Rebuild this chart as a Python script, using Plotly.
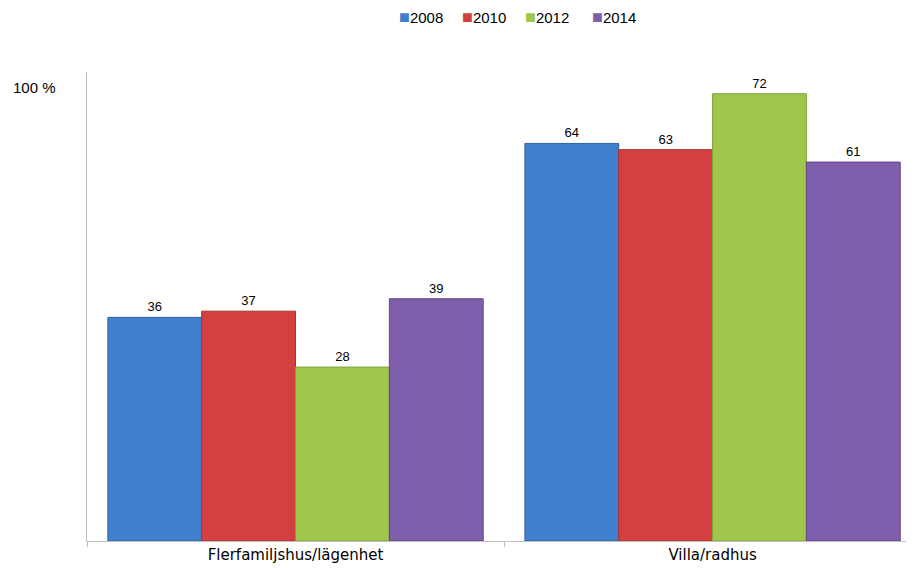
import plotly.graph_objects as go

categories = ["Flerfamiljshus/lägenhet", "Villa/radhus"]
years = ["2008", "2010", "2012", "2014"]
values_2008 = [36, 64]
values_2010 = [37, 63]
values_2012 = [28, 72]
values_2014 = [39, 61]
series = [values_2008, values_2010, values_2012, values_2014]
colors = ["#3F7FCD", "#D3403F", "#A0C64B", "#7F5EAB"]
edge_colors = ["#2E62A6", "#A83230", "#7FA33A", "#63478A"]

# The page body has an 8px margin, so the figure is drawn 8px smaller
# and all positions below are in figure coordinates (page minus 8px).
W, H = 906, 560
L, T, B = 79, 64, 27
PW, PH = W - L, H - T - B

fig = go.Figure()
for name, vals, c, ec in zip(years, series, colors, edge_colors):
    fig.add_trace(go.Bar(
        x=categories, y=vals, name=name,
        marker=dict(color=c, line=dict(color=ec, width=1)),
        text=[str(v) for v in vals], textposition="outside",
        textfont=dict(family="Liberation Sans, Arial, sans-serif", size=13, color="#000000"),
        cliponaxis=False,
    ))

fig.update_layout(
    width=W, height=H,
    margin=dict(l=L, r=0, t=T, b=B, autoexpand=False),
    paper_bgcolor="white", plot_bgcolor="white",
    font=dict(family="Liberation Sans, Arial, sans-serif", size=13, color="#000000"),
    barmode="group", bargap=0.1, bargroupgap=0,
    showlegend=False,
    xaxis=dict(range=[-0.5, 1.483], showline=True, linecolor="#BFBFBF", linewidth=1,
               ticks="outside", tickson="boundaries", ticklen=5, tickcolor="#BFBFBF",
               showgrid=False,
               tickfont=dict(family="DejaVu Sans, sans-serif", size=15, color="#000000")),
    yaxis=dict(range=[0, 75.5], showline=True, linecolor="#BFBFBF", linewidth=1,
               showgrid=False, showticklabels=False, zeroline=False, ticks=""),
)

# Legend row (compact, like the original)
legend_x = [389, 452, 515, 582]
for name, c, lx in zip(years, colors, legend_x):
    fig.add_annotation(
        text=f"<span style='color:{c};font-size:18px'>■</span>{name}",
        xref="paper", yref="paper", x=(lx - L) / PW, y=(H - B - 9) / PH,
        xanchor="left", yanchor="middle", showarrow=False,
        font=dict(family="Liberation Sans, Arial, sans-serif", size=15, color="#000000"),
    )

fig.add_annotation(text="100 %", xref="paper", yref="paper",
                   x=(26 - L) / PW, y=(H - B - 79) / PH, showarrow=False,
                   font=dict(family="Liberation Sans, Arial, sans-serif", size=15),
                   xanchor="center", yanchor="middle")

fig.write_html("out.html")
